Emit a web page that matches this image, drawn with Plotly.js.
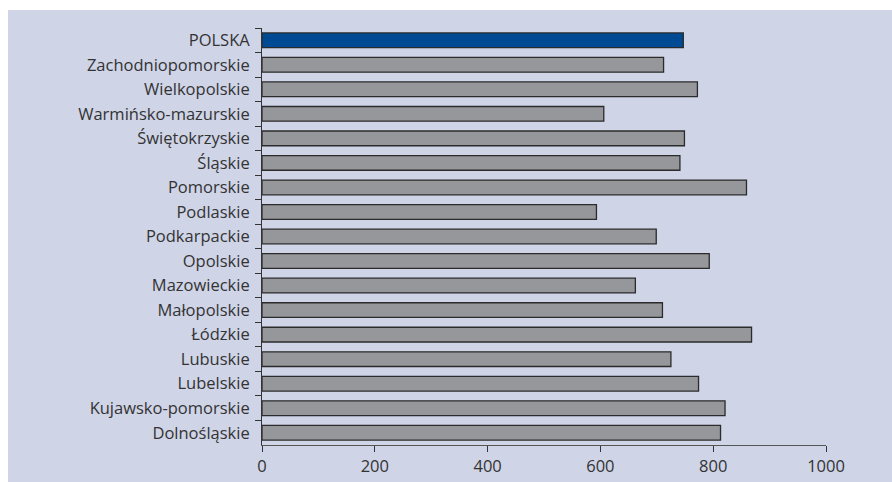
<!DOCTYPE html>
<html>
<head>
<meta charset="utf-8">
<script src="https://cdn.plot.ly/plotly-3.0.1.min.js"></script>
<style>html,body{margin:0;padding:0;background:#fff;}#chart{width:892px;height:482px;}</style>
</head>
<body>
<div id="chart"></div>
<script>
const regions = ["POLSKA","Zachodniopomorskie","Wielkopolskie","Warmińsko-mazurskie","Świętokrzyskie","Śląskie","Pomorskie","Podlaskie","Podkarpackie","Opolskie","Mazowieckie","Małopolskie","Łódzkie","Lubuskie","Lubelskie","Kujawsko-pomorskie","Dolnośląskie"];
const values = [747,712,772,606,749,741,859,593,699,793,662,710,868,725,774,821,813];
const xTicks = [0,200,400,600,800,1000];

const colors = regions.map(r => r === "POLSKA" ? "#004a93" : "#96979b");

const trace = {
  type: "bar",
  orientation: "h",
  y: regions,
  x: values,
  width: 0.6,
  marker: {color: colors, line: {color: "#2b2b2b", width: 1.3}},
  hoverinfo: "x+y"
};

const layout = {
  width: 892, height: 482,
  margin: {l: 262, r: 66, t: 28, b: 37, pad: 0},
  paper_bgcolor: "#ffffff",
  plot_bgcolor: "#ffffff",
  showlegend: false,
  font: {family: "Open Sans, Noto Sans, sans-serif", size: 16, color: "#333333"},
  shapes: [{
    type: "rect", xref: "paper", yref: "paper", layer: "below",
    x0: (8-262)/564, x1: (892-262)/564, y0: -37/417, y1: 1 + 18/417,
    fillcolor: "#cfd4e7", line: {width: 0}
  }],
  xaxis: {
    range: [0, 1000], tickvals: xTicks, ticktext: xTicks.map(String),
    showgrid: false, zeroline: false, showline: true, linecolor: "#555555", linewidth: 1,
    ticks: "outside", ticklen: 6, tickcolor: "#333333", tickwidth: 1,
    tickfont: {size: 16.5, color: "#333333"}, fixedrange: true
  },
  yaxis: {
    type: "category", autorange: "reversed",
    tickson: "boundaries", ticks: "outside", ticklen: 6, tickcolor: "#333333", tickwidth: 1,
    showgrid: false, zeroline: false, showline: true, linecolor: "#333333", linewidth: 1,
    tickfont: {size: 16.5, color: "#333333"}, ticklabelstandoff: 8, fixedrange: true
  }
};

Plotly.newPlot("chart", [trace], layout, {displayModeBar: false, staticPlot: true});
</script>
</body>
</html>
